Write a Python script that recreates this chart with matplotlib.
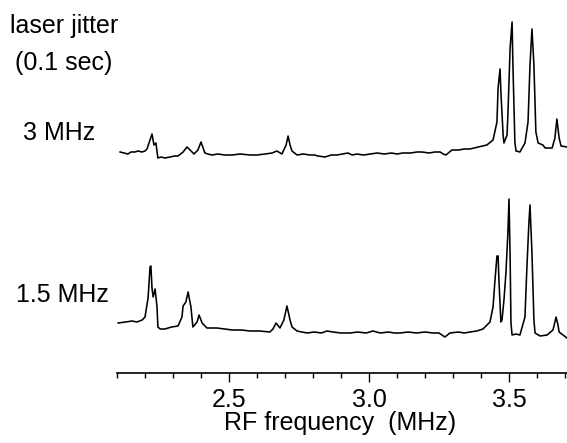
import matplotlib
matplotlib.use("Agg")
import matplotlib.pyplot as plt
from matplotlib.ticker import MultipleLocator, FixedLocator

plt.rcParams['font.family'] = ['Liberation Sans', 'DejaVu Sans']

# RF spectrum with 3 MHz laser jitter (frequency in MHz, signal in arb. units)
freq_3mhz = [2.111, 2.125, 2.139, 2.150, 2.164, 2.175, 2.189, 2.200, 2.207, 2.218,
             2.225, 2.232, 2.239, 2.246, 2.258, 2.271, 2.290, 2.305, 2.318, 2.336,
             2.350, 2.361, 2.375, 2.389, 2.400, 2.414, 2.425, 2.439, 2.460, 2.485,
             2.511, 2.540, 2.575, 2.600, 2.629, 2.654, 2.671, 2.689, 2.704, 2.711,
             2.718, 2.725, 2.743, 2.765, 2.789, 2.805, 2.818, 2.843, 2.865, 2.886,
             2.905, 2.925, 2.940, 2.957, 2.980, 3.005, 3.029, 3.055, 3.080, 3.100,
             3.121, 3.150, 3.170, 3.189, 3.215, 3.235, 3.254, 3.265, 3.275, 3.296,
             3.320, 3.340, 3.361, 3.390, 3.421, 3.443, 3.457, 3.461, 3.468, 3.471,
             3.479, 3.482, 3.493, 3.496, 3.504, 3.511, 3.514, 3.521, 3.525, 3.539,
             3.557, 3.568, 3.575, 3.582, 3.589, 3.596, 3.604, 3.621, 3.629, 3.654,
             3.664, 3.671, 3.679, 3.686, 3.707]
sig_3mhz = [3, 2, 1, 3, 3, 4, 3, 4, 6, 15,
            21, 10, 12, -3, -2, -3, -2, -1, -1, 3,
            8, 5, 1, 5, 13, 2, 1, 0, 1, 0,
            0, 1, 0, 0, 1, 2, 4, 1, 10, 19,
            10, 4, 0, 1, 0, 0, -1, -2, 0, 0,
            1, 2, 0, 1, 0, 1, 2, 1, 2, 1,
            2, 2, 3, 3, 2, 3, 3, 1, 0, 5,
            5, 6, 6, 8, 10, 15, 33, 67, 86, 63,
            20, 12, 20, 40, 107, 133, 90, 13, 4, 3,
            12, 33, 90, 126, 90, 23, 12, 10, 7, 7,
            17, 36, 17, 9, 8]

# RF spectrum with 1.5 MHz laser jitter
freq_15mhz = [2.104, 2.130, 2.154, 2.171, 2.190, 2.200, 2.211, 2.218, 2.221, 2.225,
              2.229, 2.236, 2.243, 2.246, 2.254, 2.271, 2.295, 2.318, 2.332, 2.336,
              2.346, 2.354, 2.364, 2.371, 2.386, 2.393, 2.404, 2.421, 2.440, 2.457,
              2.485, 2.511, 2.545, 2.575, 2.610, 2.646, 2.657, 2.668, 2.682, 2.696,
              2.707, 2.718, 2.725, 2.743, 2.760, 2.779, 2.805, 2.830, 2.850, 2.871,
              2.900, 2.932, 2.960, 2.990, 3.014, 3.040, 3.070, 3.090, 3.111, 3.140,
              3.170, 3.200, 3.229, 3.250, 3.271, 3.289, 3.320, 3.340, 3.361, 3.385,
              3.407, 3.432, 3.443, 3.450, 3.457, 3.461, 3.464, 3.471, 3.475, 3.482,
              3.489, 3.496, 3.500, 3.504, 3.507, 3.511, 3.525, 3.539, 3.557, 3.564,
              3.571, 3.575, 3.582, 3.589, 3.593, 3.611, 3.636, 3.657, 3.664, 3.668,
              3.675, 3.679, 3.707]
sig_15mhz = [10, 11, 12, 11, 13, 16, 35, 66, 67, 45,
             36, 44, 26, 6, 4, 4, 6, 7, 16, 27,
             31, 41, 26, 6, 11, 18, 10, 5, 5, 5,
             4, 3, 3, 2, 2, 1, 4, 10, 5, 13,
             27, 13, 6, 2, 1, 0, 1, 0, 2, 1,
             0, 0, 1, 0, 2, 0, 1, 0, 0, 1,
             0, 1, 0, 0, -4, 0, 1, 0, 1, 2,
             4, 11, 26, 53, 77, 77, 53, 11, 13, 33,
             60, 100, 134, 76, 10, -2, -1, -2, 16, 66,
             110, 128, 80, 13, 0, -3, -2, 3, 11, 16,
             8, 1, -5]

# vertical offsets of the two traces
OFFSET_3MHZ = 218
OFFSET_15MHZ = 40

W, H = 567, 443
fig = plt.figure(figsize=(W / 100, H / 100), dpi=100)
ax = fig.add_axes([117 / W, 70 / H, 450 / W, 373 / H])

ax.plot(freq_3mhz, [s + OFFSET_3MHZ for s in sig_3mhz], color='black', lw=1.15, clip_on=False)
ax.plot(freq_15mhz, [s + OFFSET_15MHZ for s in sig_15mhz], color='black', lw=1.15, clip_on=False)

ax.set_xlim(2.1, 2.1 + 450 / 280)
ax.set_ylim(0, 373)

for side in ['top', 'right', 'left']:
    ax.spines[side].set_visible(False)
ax.spines['bottom'].set_linewidth(1.2)
ax.set_yticks([])

ax.xaxis.set_major_locator(FixedLocator([2.5, 3.0, 3.5]))
ax.xaxis.set_minor_locator(MultipleLocator(0.1))
ax.set_xticklabels(['2.5', '3.0', '3.5'])
ax.tick_params(axis='x', which='major', direction='out', length=6.5, width=1.0,
               pad=4, labelsize=18)
ax.tick_params(axis='x', which='minor', direction='out', length=3.5, width=1.0)

ax.set_xlabel('RF frequency  (MHz)', fontsize=18, va='baseline', ha='center')
ax.xaxis.set_label_coords((340 - 117) / 450, -(430 - 373) / 373)

fig.text(10 / W, 1 - 33 / H, 'laser jitter', fontsize=18, va='baseline')
fig.text(15 / W, 1 - 70 / H, '(0.1 sec)', fontsize=18, va='baseline')
fig.text(23 / W, 1 - 140 / H, '3 MHz', fontsize=18, va='baseline')
fig.text(16 / W, 1 - 302 / H, '1.5 MHz', fontsize=18, va='baseline')

fig.savefig('out.png', dpi=100)
